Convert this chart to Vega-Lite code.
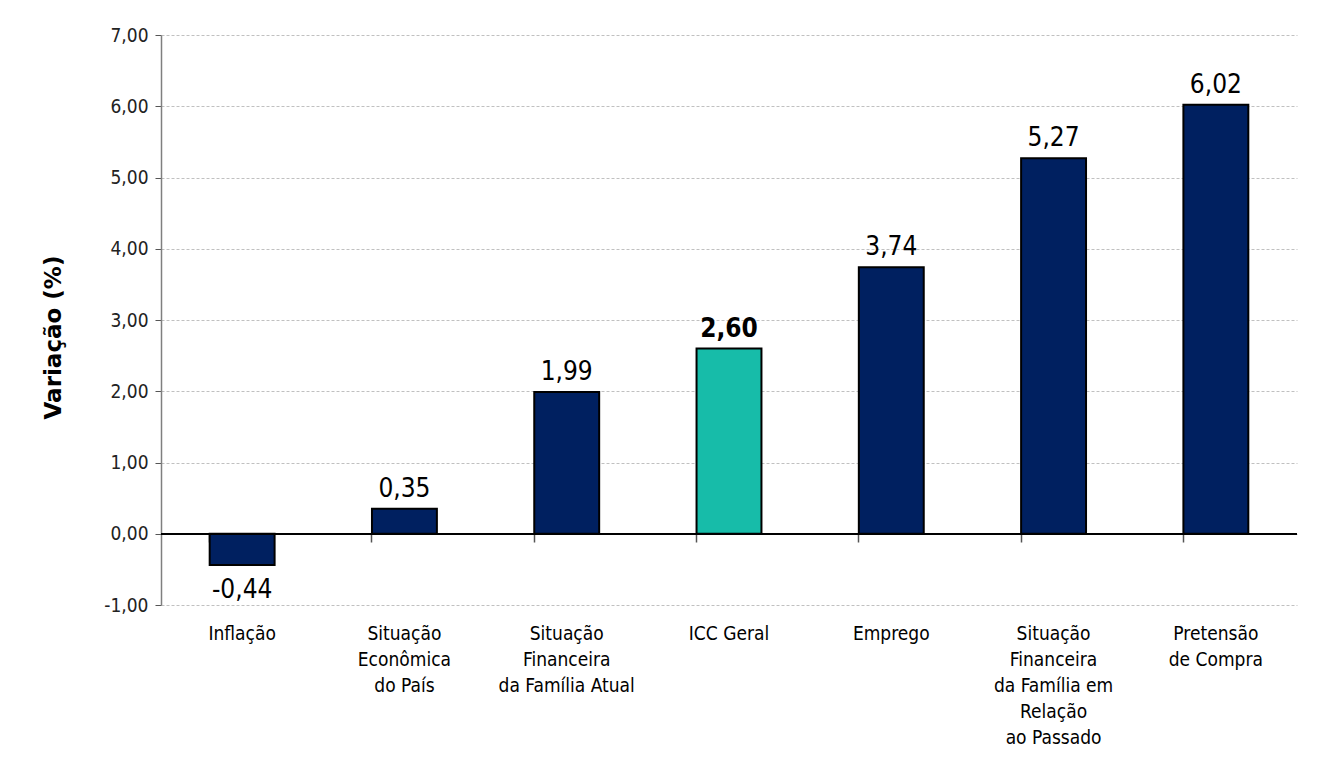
{
  "$schema": "https://vega.github.io/schema/vega-lite/v6.json",
  "width": 1136,
  "height": 570,
  "autosize": "none",
  "padding": {"left": 161, "top": 35, "right": 28, "bottom": 159},
  "background": "white",
  "config": {
    "locale": {"number": {"decimal": ",", "thousands": ".", "grouping": [3], "currency": ["R$", ""], "minus": "-"}},
    "view": {"stroke": null},
    "font": "DejaVu Sans Condensed"
  },
  "data": {
    "values": [
      {"cat": "Inflação", "v": -0.44, "grupo": "componente"},
      {"cat": "Situação Econômica do País", "v": 0.35, "grupo": "componente"},
      {"cat": "Situação Financeira da Família Atual", "v": 1.99, "grupo": "componente"},
      {"cat": "ICC Geral", "v": 2.60, "grupo": "ICC"},
      {"cat": "Emprego", "v": 3.74, "grupo": "componente"},
      {"cat": "Situação Financeira da Família em Relação ao Passado", "v": 5.27, "grupo": "componente"},
      {"cat": "Pretensão de Compra", "v": 6.02, "grupo": "componente"}
    ]
  },
  "resolve": {"axis": {"x": "independent"}},
  "layer": [
    {
      "mark": {"type": "bar", "stroke": "black", "strokeWidth": 2},
      "encoding": {
        "x": {
          "field": "cat", "type": "nominal", "sort": null,
          "scale": {"paddingInner": 0.6, "paddingOuter": 0.3},
          "axis": {
            "orient": "bottom", "title": null, "domain": false, "ticks": false,
            "labelAngle": 0, "labelExpr": "split(datum.value == 'Situação Econômica do País' ? 'Situação|Econômica|do País' : datum.value == 'Situação Financeira da Família Atual' ? 'Situação|Financeira|da Família Atual' : datum.value == 'Situação Financeira da Família em Relação ao Passado' ? 'Situação|Financeira|da Família em|Relação|ao Passado' : datum.value == 'Pretensão de Compra' ? 'Pretensão|de Compra' : datum.value, '|')",
            "labelFontSize": 19, "labelColor": "#000000", "labelPadding": 19, "labelLineHeight": 26, "labelLimit": 300
          }
        },
        "y": {
          "field": "v", "type": "quantitative",
          "scale": {"domain": [-1, 7], "nice": false, "zero": false},
          "axis": {
            "title": "Variação (%)", "titleFont": "DejaVu Sans", "titleFontSize": 23, "titleFontWeight": "bold", "titleColor": "#000000", "titlePadding": 38, "titleY": 302,
            "values": [-1, 0, 1, 2, 3, 4, 5, 6, 7], "format": ".2f",
            "labelFontSize": 19, "labelColor": "#222222", "labelPadding": 7,
            "domainColor": "#7f7f7f", "domainWidth": 1.5, "tickColor": "#555555", "tickSize": 6,
            "gridColor": "#c0c0c0", "gridDash": [3, 2], "gridWidth": 1
          }
        },
        "color": {
          "field": "grupo", "type": "nominal",
          "scale": {"domain": ["componente", "ICC"], "range": ["#002060", "#17BCA9"]},
          "legend": null
        }
      }
    },
    {
      "mark": {"type": "rule", "color": "black", "strokeWidth": 1.5},
      "encoding": {"y": {"datum": 0, "type": "quantitative"}}
    },
    {
      "transform": [{"filter": "datum.v >= 0 && datum.grupo != 'ICC'"}],
      "mark": {"type": "text", "baseline": "alphabetic", "dy": -12, "fontSize": 26, "color": "#000000"},
      "encoding": {
        "x": {
          "field": "cat", "type": "nominal", "sort": null,
          "axis": {"orient": "bottom", "title": null, "labels": false, "domain": false, "ticks": true, "bandPosition": 0, "tickColor": "#555555", "tickSize": 8, "tickWidth": 1.5, "offset": -71}
        },
        "y": {"field": "v", "type": "quantitative"},
        "text": {"field": "v", "type": "quantitative", "format": ".2f"}
      }
    },
    {
      "transform": [{"filter": "datum.grupo == 'ICC'"}],
      "mark": {"type": "text", "baseline": "alphabetic", "dy": -12, "fontSize": 26, "fontWeight": "bold", "color": "#000000"},
      "encoding": {
        "x": {"field": "cat", "type": "nominal", "sort": null, "axis": null},
        "y": {"field": "v", "type": "quantitative"},
        "text": {"field": "v", "type": "quantitative", "format": ".2f"}
      }
    },
    {
      "transform": [{"filter": "datum.v < 0"}],
      "mark": {"type": "text", "baseline": "top", "dy": 12, "fontSize": 26, "color": "#000000"},
      "encoding": {
        "x": {"field": "cat", "type": "nominal", "sort": null, "axis": null},
        "y": {"field": "v", "type": "quantitative"},
        "text": {"field": "v", "type": "quantitative", "format": ".2f"}
      }
    }
  ]
}
